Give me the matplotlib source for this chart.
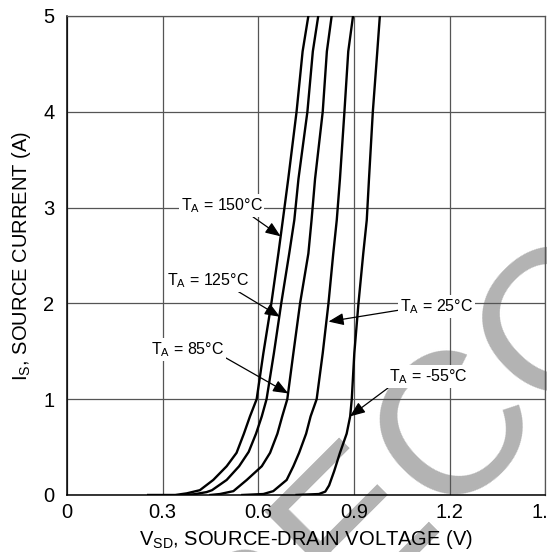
import numpy as np
import matplotlib
matplotlib.use("Agg")
import matplotlib.pyplot as plt

plt.rcParams['font.family'] = ['Liberation Sans', 'DejaVu Sans']
plt.rcParams['mathtext.default'] = 'regular'

# curves: (V_SD [V], I_S [A])
v_150 = [0.255, 0.34, 0.376, 0.417, 0.459, 0.501, 0.532, 0.555, 0.574, 0.595, 0.616, 0.641, 0.663, 0.677, 0.694, 0.720, 0.739, 0.757]
i_150 = [0.0, 0.0, 0.017, 0.05, 0.157, 0.30, 0.44, 0.64, 0.82, 1.0, 1.48, 2.0, 2.52, 2.87, 3.3, 4.0, 4.63, 5.0]

v_125 = [0.37, 0.40, 0.438, 0.455, 0.501, 0.540, 0.570, 0.593, 0.611, 0.626, 0.649, 0.672, 0.697, 0.713, 0.726, 0.754, 0.771, 0.788]
i_125 = [0.0, 0.008, 0.03, 0.05, 0.157, 0.30, 0.45, 0.64, 0.82, 1.0, 1.48, 2.0, 2.52, 2.87, 3.3, 4.0, 4.63, 5.0]

v_85 = [0.45, 0.48, 0.522, 0.564, 0.611, 0.637, 0.660, 0.675, 0.691, 0.710, 0.731, 0.757, 0.767, 0.778, 0.802, 0.815, 0.830]
i_85 = [0.0, 0.01, 0.04, 0.157, 0.30, 0.44, 0.64, 0.82, 1.0, 1.48, 2.0, 2.52, 2.87, 3.3, 4.0, 4.63, 5.0]

v_25 = [0.55, 0.616, 0.647, 0.689, 0.710, 0.728, 0.750, 0.764, 0.783, 0.802, 0.820, 0.835, 0.846, 0.856, 0.870, 0.882, 0.897]
i_25 = [0.0, 0.01, 0.04, 0.157, 0.30, 0.44, 0.64, 0.82, 1.0, 1.48, 2.0, 2.52, 2.87, 3.3, 4.0, 4.63, 5.0]

v_m55 = [0.72, 0.79, 0.81, 0.822, 0.838, 0.856, 0.877, 0.888, 0.893, 0.901, 0.914, 0.929, 0.940, 0.947, 0.959, 0.973, 0.981]
i_m55 = [0.0, 0.01, 0.035, 0.10, 0.25, 0.44, 0.64, 0.82, 1.0, 1.48, 2.0, 2.52, 2.87, 3.3, 4.0, 4.63, 5.0]

curves = [(v_150, i_150), (v_125, i_125), (v_85, i_85), (v_25, i_25), (v_m55, i_m55)]

# annotation labels: text, text centre (V, A), arrow tip (V, A), arrow start on the box
labels = [r'T$_\mathregular{A}$ = 150°C', r'T$_\mathregular{A}$ = 125°C', r'T$_\mathregular{A}$ = 85°C',
          r'T$_\mathregular{A}$ = 25°C', r'T$_\mathregular{A}$ = -55°C']
label_xy = [(0.485, 3.02), (0.443, 2.24), (0.378, 1.52), (1.159, 1.97), (1.133, 1.235)]
tip_xy = [(0.670, 2.70), (0.668, 1.86), (0.694, 1.06), (0.820, 1.81), (0.887, 0.82)]
rel_pos = [(0.85, 0.0), (0.83, 0.0), (1.0, 0.1), (0.0, 0.3), (0.02, 0.0)]

x_ticks = [0, 0.3, 0.6, 0.9, 1.2, 1.5]
x_ticklabels = ['0', '0.3', '0.6', '0.9', '1.2', '1.5']
y_ticks = [0, 1, 2, 3, 4, 5]

fig = plt.figure(figsize=(5.47, 5.52), dpi=100)
ax = fig.add_axes([0.1221, 0.1033, 0.8751, 0.8678])
ax.set_facecolor('none')

# watermark behind everything
fig.text(0.446, -0.2895, 'RECOMMENDED', rotation=45, rotation_mode='anchor',
         ha='left', va='baseline', fontsize=145, color='#b3b3b3', zorder=-5)

for v, i in curves:
    ax.plot(v, i, color='black', lw=1.7, solid_joinstyle='round', zorder=3)

for txt, xy, tip, rp in zip(labels, label_xy, tip_xy, rel_pos):
    ax.annotate(txt, xy=tip, xytext=xy, fontsize=11.5, ha='center', va='center',
                bbox=dict(boxstyle='square,pad=0.12', fc='white', ec='none'),
                arrowprops=dict(arrowstyle='-|>,head_length=0.8,head_width=0.32',
                                color='black', lw=0.9, shrinkA=0, shrinkB=0,
                                relpos=rp),
                zorder=4)

ax.set_xlim(0, 1.5)
ax.set_ylim(0, 5)
ax.set_xticks(x_ticks)
ax.set_xticklabels(x_ticklabels)
ax.set_yticks(y_ticks)
ax.grid(True, color='#555555', lw=0.9, zorder=1)
ax.set_axisbelow(True)
ax.tick_params(length=0, labelsize=14.5)
ax.tick_params(axis='x', pad=6)
ax.tick_params(axis='y', pad=9)

for s in ['top', 'right']:
    ax.spines[s].set_color('#555555')
    ax.spines[s].set_linewidth(0.9)
for s in ['left', 'bottom']:
    ax.spines[s].set_color('black')
    ax.spines[s].set_linewidth(1.1)

ax.set_xlabel(r'V$_\mathregular{SD}$, SOURCE-DRAIN VOLTAGE (V)', fontsize=14.5, labelpad=4)
ax.set_ylabel(r'I$_\mathregular{S}$, SOURCE CURRENT (A)', fontsize=14.5, labelpad=7)

fig.savefig('out.png', dpi=100)
